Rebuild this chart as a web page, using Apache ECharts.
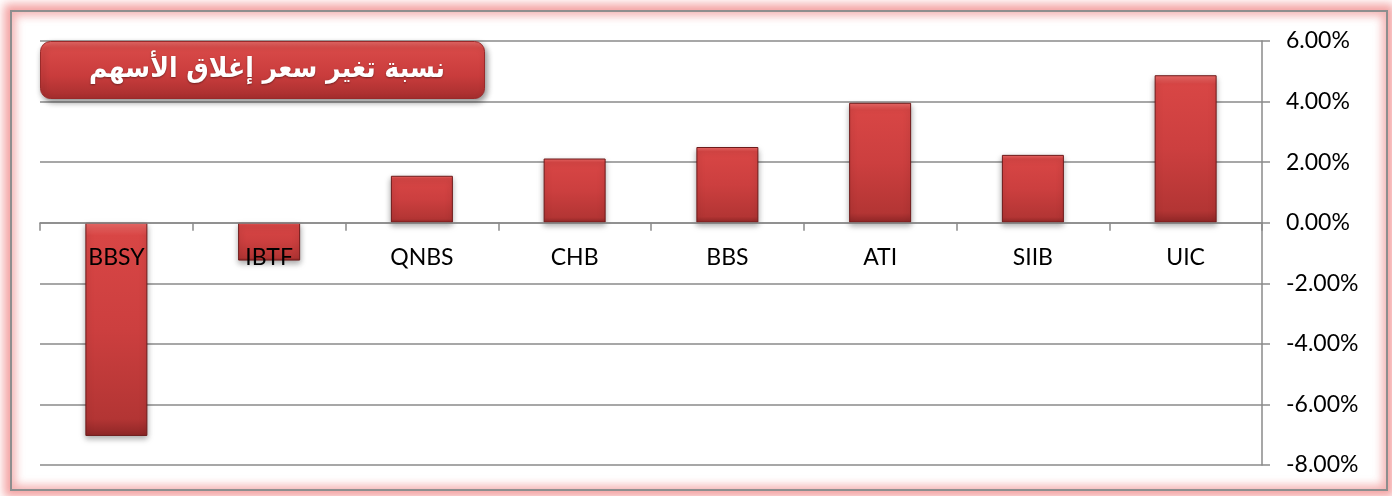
<!DOCTYPE html>
<html>
<head>
<meta charset="utf-8">
<script src="https://cdn.jsdelivr.net/npm/echarts@6/dist/echarts.min.js"></script>
<style>
  html, body { margin: 0; padding: 0; background: #fff; }
  #frame {
    position: absolute; left: 10px; top: 10px; width: 1374px; height: 477px;
    border: 2px solid #8e8e8e;
    box-shadow: 0 0 9px 6px rgba(240,140,140,0.8), inset 0 0 9px 4px rgba(240,150,150,0.7);
  }
  #chart { position: absolute; left: 0; top: 0; width: 1392px; height: 496px; }
</style>
</head>
<body>
<div id="frame"></div>
<div id="chart"></div>
<script>
const categories = ['BBSY', 'IBTF', 'QNBS', 'CHB', 'BBS', 'ATI', 'SIIB', 'UIC'];
const values = [-0.0704, -0.0125, 0.0155, 0.0212, 0.0250, 0.0396, 0.0224, 0.0487];
const yTicks = [-0.08, -0.06, -0.04, -0.02, 0, 0.02, 0.04, 0.06];
const titleText = 'نسبة تغير سعر إغلاق الأسهم';

const chart = echarts.init(document.getElementById('chart'));
chart.setOption({
  animation: false,
  grid: { left: 40, right: 130, top: 41, bottom: 31, outerBoundsMode: 'none', containLabel: false },
  xAxis: {
    type: 'category',
    data: categories,
    z: 10,
    axisLine: { onZero: true, lineStyle: { color: '#8a8a8a', width: 1.5 } },
    axisTick: { show: true, length: 8, alignWithLabel: false, lineStyle: { color: '#8a8a8a', width: 1.5 } },
    axisLabel: { margin: -219, color: '#000', fontSize: 23, fontFamily: 'Lato' }
  },
  yAxis: {
    type: 'value',
    position: 'right',
    min: yTicks[0],
    max: yTicks[yTicks.length - 1],
    interval: 0.02,
    axisLine: { show: true, lineStyle: { color: '#8a8a8a', width: 1.5 } },
    axisTick: { show: true, length: 8, lineStyle: { color: '#8a8a8a', width: 1.5 } },
    splitLine: { show: true, lineStyle: { color: '#8a8a8a', width: 1.5 } },
    axisLabel: {
      margin: 24, color: '#000', fontSize: 23, fontFamily: 'Lato',
      formatter: v => (v * 100).toFixed(2) + '%'
    }
  },
  series: [{
    type: 'bar',
    data: values,
    barWidth: 62,
    itemStyle: {
      color: new echarts.graphic.LinearGradient(0, 0, 0, 1, [
        { offset: 0, color: '#ec6a68' },
        { offset: 0.06, color: '#d84645' },
        { offset: 0.5, color: '#cc3f3f' },
        { offset: 0.92, color: '#b33534' },
        { offset: 1, color: '#8e2626' }
      ]),
      borderColor: '#6e1a1a',
      borderWidth: 1,
      shadowColor: 'rgba(0,0,0,0.35)',
      shadowBlur: 6,
      shadowOffsetY: 3
    }
  }],
  graphic: [
    {
      type: 'rect',
      left: 40, top: 41,
      shape: { width: 444, height: 57, r: 10 },
      style: {
        fill: new echarts.graphic.LinearGradient(0, 0, 0, 1, [
          { offset: 0, color: '#e86a68' },
          { offset: 0.12, color: '#d84a48' },
          { offset: 0.6, color: '#c93c3c' },
          { offset: 1, color: '#a52e2e' }
        ]),
        stroke: '#9a2a2a',
        lineWidth: 1,
        shadowColor: 'rgba(0,0,0,0.45)',
        shadowBlur: 6,
        shadowOffsetX: 2,
        shadowOffsetY: 3
      },
      z: 100
    },
    {
      type: 'text',
      x: 267, y: 70,
      style: {
        text: titleText,
        fill: '#fff',
        font: 'bold 28px "DejaVu Sans Condensed", "DejaVu Sans"',
        align: 'center',
        verticalAlign: 'middle',
        textShadowColor: 'rgba(0,0,0,0.4)',
        textShadowBlur: 2,
        textShadowOffsetY: 1
      },
      z: 101
    }
  ]
});
</script>
</body>
</html>
